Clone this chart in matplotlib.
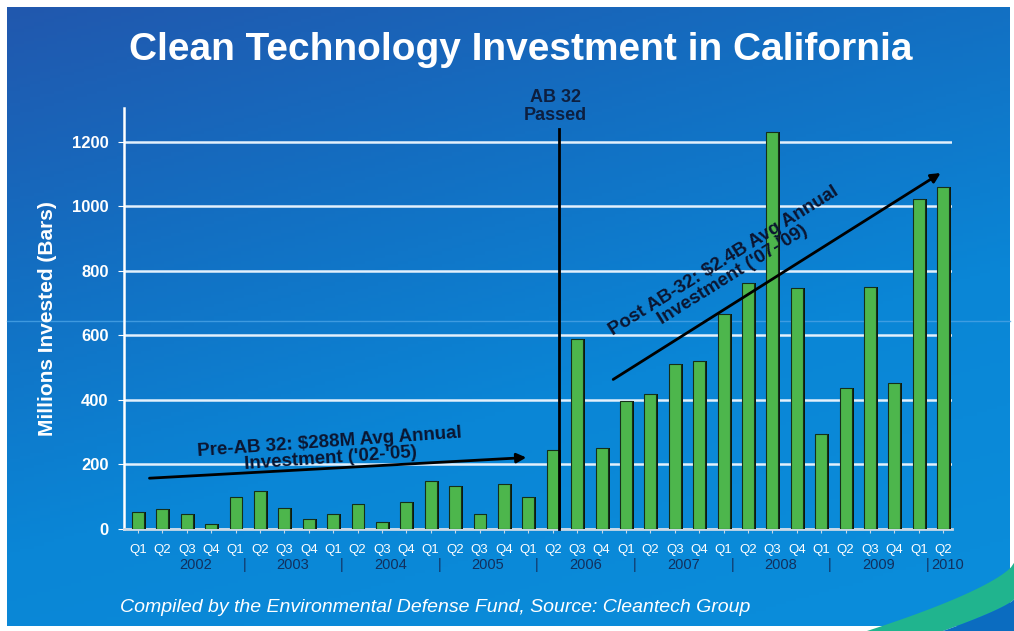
import numpy as np
import matplotlib
matplotlib.use("Agg")
import matplotlib.pyplot as plt
from matplotlib.patches import Polygon
from matplotlib.colors import LinearSegmentedColormap

plt.rcParams['font.family'] = ['Liberation Sans', 'DejaVu Sans']

# quarterly investment, millions of dollars (Q1 2002 .. Q2 2010)
quarters = ["Q1", "Q2", "Q3", "Q4"] * 8 + ["Q1", "Q2"]
invested = [52, 63, 48, 16,
            100, 117, 65, 31,
            47, 79, 23, 85,
            148, 134, 45, 138,
            100, 246, 588, 252,
            396, 419, 510, 522,
            667, 764, 1231, 748,
            294, 436, 750, 454,
            1023, 1061]
years = ["2002", "2003", "2004", "2005", "2006", "2007", "2008", "2009", "2010"]
yticks = [0, 200, 400, 600, 800, 1000, 1200]

fig = plt.figure(figsize=(10.14, 6.31), dpi=100, facecolor='white')

# gradient background
bg = fig.add_axes([7/1014, 5/631, 1003/1014, 619/631], zorder=0)
ny, nx = 200, 300
yy, xx = np.mgrid[0:1:ny*1j, 0:1:nx*1j]
t = np.clip(0.35*xx + 0.75*yy, 0, 1)
cmap = LinearSegmentedColormap.from_list('bg', ['#2158ae', '#136fc2', '#0a86d6', '#0a8cda'])
bg.imshow(t, cmap=cmap, aspect='auto', extent=[0, 1, 0, 1], origin='upper', vmin=0, vmax=1)
bg.set_xlim(0, 1)
bg.set_ylim(0, 1)
bg.axis('off')

# green swoosh bottom right
sx = np.linspace(0, 1, 50)
top_x = 1.0 - sx*(1.0 - 0.855)
top_y = 0.108 - 0.108*(sx**0.7)
bx = np.linspace(0, 1, 50)
bot_x = 1.0 - bx*(1.0 - 0.93)
bot_y = 0.05 - 0.05*(bx**0.8)
pts_teal = list(zip(top_x, top_y)) + list(zip(bot_x[::-1], bot_y[::-1]))
fig.patches.append(Polygon(pts_teal, closed=True, transform=fig.transFigure,
                           facecolor='#20b48e', edgecolor='none', zorder=1))
pts_dark = list(zip(bot_x, bot_y)) + [(1.0, 0.0)]
fig.patches.append(Polygon(pts_dark, closed=True, transform=fig.transFigure,
                           facecolor='#0b6cc0', edgecolor='none', zorder=1))
# faint scan line
fig.add_artist(plt.Line2D([7/1014, 1010/1014], [1 - 321/631]*2, transform=fig.transFigure,
                          color='#4aa3e6', lw=1, alpha=0.8, zorder=1))

ax = fig.add_axes([124/1014, 102/631, 828/1014, 421/631], zorder=2)
ax.patch.set_alpha(0)
x = np.arange(len(invested))
ax.bar(x + 0.08, invested, width=0.49, color='#0d1a10', zorder=3)
ax.bar(x, invested, width=0.49, color='#4db64c', edgecolor='#16301a', linewidth=0.8, zorder=4)

ax.set_xlim(-0.57, 33.36)
ax.set_ylim(0, 1305)
ax.set_yticks(yticks)
ax.set_yticklabels([str(v) for v in yticks], color='white', fontsize=12, fontweight='bold')
ax.yaxis.grid(True, color='#e3f0fc', lw=1.8, zorder=1)
ax.set_axisbelow(True)
for s in ['top', 'right']:
    ax.spines[s].set_visible(False)
ax.spines['left'].set_color('white')
ax.spines['left'].set_linewidth(1.8)
ax.spines['bottom'].set_color('#c9d8e6')
ax.spines['bottom'].set_linewidth(2)
ax.tick_params(axis='y', length=4, color='white', pad=7)
ax.set_xticks(x)
ax.set_xticklabels(quarters, color='white', fontsize=9.5)
ax.tick_params(axis='x', length=3, color='#c9d8e6', pad=8)
ax.set_ylabel("Millions Invested (Bars)", color='white', fontsize=15, fontweight='bold', labelpad=11)

# year row
ycol = '#12305e'
for i, yr in enumerate(years[:-1]):
    ax.text(4*i + 1.5 + 0.85, -112, yr, ha='center', va='center', color=ycol, fontsize=10.5)
    ax.text(4*i + 3.5 + 0.85, -112, "|", ha='center', va='center', color=ycol, fontsize=10.5)
ax.text(32.5 + 0.7, -112, years[-1], ha='center', va='center', color=ycol, fontsize=10.5)

# AB 32 marker
ax.plot([17.25, 17.25], [0, 1240], color='black', lw=2, zorder=5, clip_on=False)
ax.text(17.1, 1310, "AB 32\nPassed", ha='center', va='center', color='#0d1f40',
        fontsize=13, fontweight='bold', linespacing=1.05)

# trend arrows and notes
ax.annotate("", xy=(16.03, 222), xytext=(0.36, 157),
            arrowprops=dict(arrowstyle='-|>', color='black', lw=2, mutation_scale=14), zorder=6)
ax.text(7.88, 245, "Pre-AB 32: $288M Avg Annual\nInvestment ('02-'05)", ha='center', va='center',
        rotation=4, color='#0b1530', fontsize=13.5, fontweight='bold', linespacing=0.95, zorder=6)
ax.annotate("", xy=(32.99, 1108), xytext=(19.38, 459),
            arrowprops=dict(arrowstyle='-|>', color='black', lw=2, mutation_scale=14), zorder=6)
ax.text(24.2, 809, "Post AB-32: $2.4B Avg Annual\nInvestment ('07-'09)", ha='center', va='center',
        rotation=32, color='#0b1530', fontsize=13.5, fontweight='bold', linespacing=0.95, zorder=6)

fig.text(521/1014, 1 - 50/631, "Clean Technology Investment in California", ha='center', va='center',
         color='white', fontsize=28, fontweight='bold', zorder=3)
fig.text(120/1014, 1 - 607/631, "Compiled by the Environmental Defense Fund, Source: Cleantech Group",
         ha='left', va='center', color='white', fontsize=14, style='italic', zorder=3)

fig.savefig("out.png", dpi=100, facecolor='white')
